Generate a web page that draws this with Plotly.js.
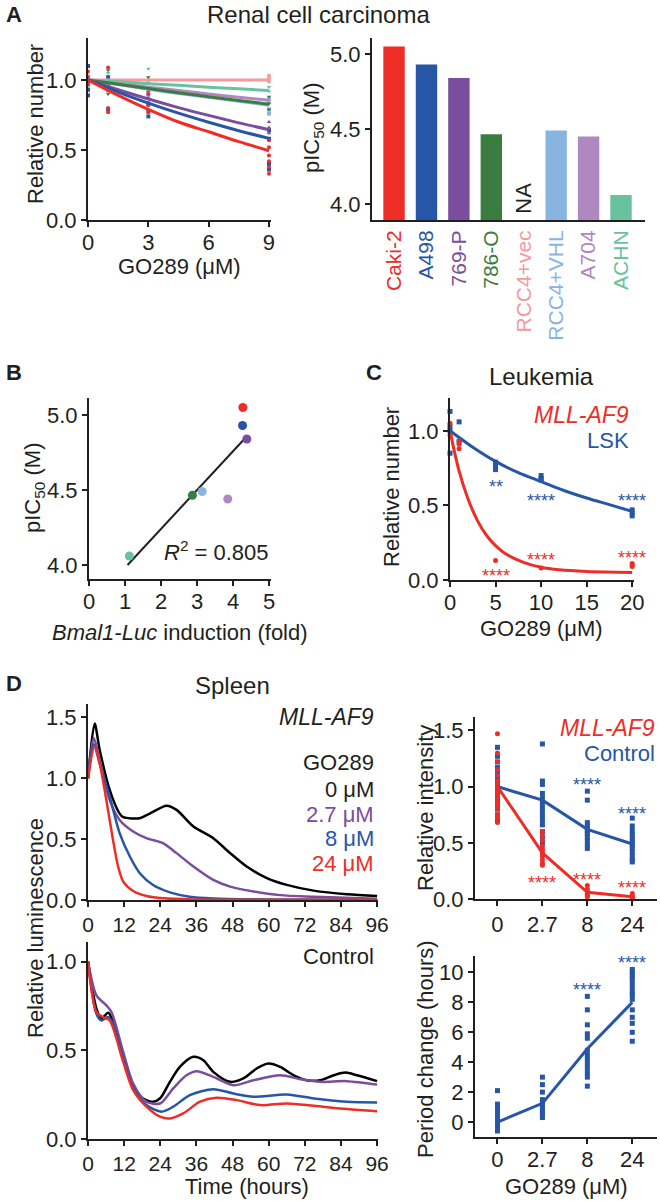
<!DOCTYPE html>
<html><head><meta charset="utf-8">
<script src="https://cdn.plot.ly/plotly-3.0.1.min.js"></script>
<style>html,body{margin:0;padding:0;background:#fff}#chart{width:660px;height:1201px}</style>
</head><body><div id="chart"></div>
<script>
// ---------------- DATA ----------------
// Panel A (left): relative number vs GO289 dose, fitted curves
const cellLines = ['Caki-2','A498','769-P','786-O','RCC4+vec','RCC4+VHL','A704','ACHN'];
const doseFitA = [0,1.5,3,4.5,6,7.5,9];
const fitCaki2 = [1,0.89,0.79,0.70,0.63,0.56,0.495];
const fitA498  = [1,0.914,0.835,0.763,0.698,0.638,0.583];
const fit769P  = [1,0.93,0.864,0.803,0.747,0.694,0.645];
const fit786O  = [1,0.969,0.939,0.909,0.881,0.854,0.827];
const fitRCC4vec = [1,1,1,1,1,1,1];
const fitRCC4VHL = [1,0.967,0.934,0.903,0.876,0.848,0.82];
const fitA704  = [1,0.974,0.949,0.925,0.9,0.877,0.855];
const fitACHN  = [1,0.987,0.974,0.962,0.949,0.937,0.925];
// replicate points (dose, relative number)
const ptsCaki2X = [0,0,0,1,1,1,1,3,3,3,9,9,9,9,9,9];
const ptsCaki2Y = [1.06,1.02,0.97,1.09,0.95,0.80,0.77,0.90,0.82,0.77,0.57,0.52,0.46,0.42,0.38,0.33];
const ptsA498X = [0,0,0,1,1,1,3,3,3,9,9,9,9];
const ptsA498Y = [1.10,0.93,0.89,1.02,0.95,0.79,0.83,0.78,0.74,0.64,0.58,0.40,0.36];
const pts769PX = [0,0,1,1,3,3,3,9,9,9];
const pts769PY = [1.0,0.97,0.98,0.92,0.92,0.87,0.84,0.70,0.66,0.62];
const pts786OX = [0,0,1,1,1,3,3,3,9,9,9];
const pts786OY = [1.02,0.98,1.07,0.97,0.90,1.02,0.95,0.90,0.88,0.83,0.79];
const ptsRCC4vecX = [0,0,1,3,9,9,9];
const ptsRCC4vecY = [1.03,0.99,1.0,1.0,1.03,1.01,0.99];
const ptsRCC4VHLX = [0,0,1,1,3,3,9,9,9];
const ptsRCC4VHLY = [1.01,0.96,0.97,0.94,0.93,0.88,0.86,0.79,0.76];
const ptsA704X = [0,1,3,3,9,9];
const ptsA704Y = [1.0,0.96,0.98,0.90,0.87,0.84];
const ptsACHNX = [0,1,1,3,3,9,9];
const ptsACHNY = [1.0,1.05,1.0,1.08,1.0,0.95,0.92];

// Panel A (right) + B: pIC50 (null = NA)
const pIC50 = [5.05,4.93,4.84,4.465,null,4.49,4.45,4.06];
// Panel B: Bmal1-Luc induction (fold) for lines with pIC50
const bLines = ['Caki-2','A498','769-P','786-O','RCC4+VHL','A704','ACHN'];
const bFold  = [4.27,4.26,4.38,2.87,3.14,3.85,1.12];
const bPIC50 = [5.05,4.93,4.84,4.465,4.49,4.44,4.06];
const bFitX = [1.07,4.33];
const bFitY = [4.0,4.845];

// Panel C: Leukemia
const cPtsLSKX = [0,0,0,0,1,1,5,5,5,10,10,10,20,20,20];
const cPtsLSKY = [1.13,1.03,1.0,0.85,1.06,0.93,0.79,0.76,0.74,0.70,0.68,0.67,0.47,0.45,0.43];
const cPtsMLLX = [0,0,1,1,1,5,10,20,20,20];
const cPtsMLLY = [1.05,0.97,0.93,0.91,0.88,0.13,0.08,0.11,0.10,0.09];
const cFitLSKX = [0,2.5,5,7.5,10,12.5,15,17.5,20];
const cFitLSKY = [1.0,0.89,0.795,0.72,0.66,0.60,0.55,0.505,0.46];
const cFitMLLX = [0,1,2,3,4,5,6,8,10,12,15,20];
const cFitMLLY = [1.0,0.73,0.54,0.40,0.30,0.23,0.18,0.12,0.085,0.068,0.057,0.051];

// Panel D (left): luminescence traces
const doseLabels = ['0 μM','2.7 μM','8 μM','24 μM'];
const mllT0  = [0,2.2,3.9,7.2,10.5,11.7,17.2,20.5,26.1,29.4,35,41.6,47.2,52.7,59.4,66,74.9,86,96];
const mllV0  = [1.0,1.45,1.23,0.905,0.71,0.68,0.672,0.71,0.774,0.74,0.604,0.508,0.385,0.275,0.18,0.124,0.077,0.047,0.033];
const mllT27 = [0,1.9,3.9,7.2,10.5,15,19.4,25,29.4,35,41.6,47.2,55,63.8,75,96];
const mllV27 = [1.0,1.33,1.15,0.82,0.658,0.563,0.508,0.466,0.385,0.275,0.165,0.11,0.07,0.04,0.027,0.01];
const mllT8  = [0,1.9,3.9,7.2,10.5,13.9,17.2,21.6,27.2,33.8,41.6,60,96];
const mllV8  = [1.0,1.28,1.12,0.85,0.549,0.357,0.22,0.123,0.063,0.027,0.013,0.005,0.003];
const mllT24 = [0,2.2,3.9,6.1,8.3,10,11.7,15,19.4,25,35,96];
const mllV24 = [1.0,1.26,1.12,0.82,0.494,0.275,0.151,0.074,0.033,0.014,0.005,0.003];
const ctlT0  = [0,2.8,4.45,6.7,8.3,11.7,15,18.3,21.6,23.9,27.2,30.5,35,38.3,41.6,47.2,51.6,56,59.9,63.8,68.3,72.7,77.1,81.6,85.5,89.3,96];
const ctlV0  = [1.0,0.734,0.678,0.712,0.66,0.472,0.303,0.228,0.21,0.228,0.322,0.406,0.463,0.444,0.378,0.322,0.341,0.397,0.425,0.406,0.359,0.331,0.331,0.359,0.374,0.359,0.326];
const ctlT27 = [0,2.8,6.1,7.8,11.7,15,19.4,23.9,28.3,32.7,36.1,41.6,48.3,54.9,63.8,70.5,77.1,86,96];
const ctlV27 = [1.0,0.809,0.753,0.715,0.49,0.313,0.21,0.2,0.285,0.359,0.382,0.35,0.303,0.331,0.359,0.337,0.322,0.326,0.307];
const ctlT8  = [0,2.8,4.45,6.7,8.3,11.7,15,19.4,24.4,28.3,33.8,41.6,48.3,54.9,66,75,86,96];
const ctlV8  = [1.0,0.705,0.668,0.687,0.65,0.453,0.285,0.191,0.154,0.182,0.247,0.281,0.256,0.238,0.251,0.228,0.21,0.206];
const ctlT24 = [0,2.8,5,7.2,11.7,15,19.4,23.9,27.2,31.6,37.2,42.7,49.4,57.2,66,75,86,96];
const ctlV24 = [1.0,0.715,0.687,0.668,0.434,0.275,0.182,0.126,0.116,0.144,0.21,0.232,0.219,0.191,0.2,0.187,0.169,0.157];

// Panel D (right): doses (categorical)
const doses = ['0','2.7','8','24'];
const intMLLMean  = [1.0,0.41,0.06,0.02];
const intCtlMean  = [1.0,0.88,0.62,0.49];
const intMLL_0  = [1.47,1.30,1.22,1.15,1.10,1.05,1.02,1.0,0.98,0.95,0.92,0.90,0.88,0.85,0.82,0.80,0.75,0.72,0.68];
const intMLL_27 = [0.60,0.56,0.52,0.47,0.44,0.42,0.40,0.38,0.35,0.32,0.30];
const intMLL_8  = [0.12,0.09,0.07,0.05,0.04,0.03,0.02];
const intMLL_24 = [0.05,0.03,0.02,0.01,0.0];
const intCtl_0  = [1.35,1.27,1.22,1.17,1.12,1.08,1.04,1.0,0.97,0.93,0.90,0.87,0.84,0.80,0.75,0.70];
const intCtl_27 = [1.38,1.05,1.02,0.94,0.90,0.86,0.82,0.78,0.74,0.70,0.66,0.60,0.55,0.50];
const intCtl_8  = [0.96,0.88,0.68,0.65,0.62,0.60,0.58,0.55,0.52,0.48,0.45];
const intCtl_24 = [0.72,0.65,0.61,0.58,0.55,0.52,0.50,0.48,0.45,0.42,0.38,0.35,0.33];
const periodMean = [0,1.25,4.9,8.0];
const period_0  = [2.1,1.2,1.0,0.8,0.6,0.4,0.2,0.0,-0.2,-0.4,-0.6];
const period_27 = [3.0,2.5,2.0,1.5,1.3,1.1,0.9,0.7,0.5,0.3];
const period_8  = [8.4,7.5,6.5,5.9,5.6,4.8,4.5,4.2,3.9,3.6,3.3,3.0,2.4];
const period_24 = [10.2,10.0,9.8,9.6,9.3,9.0,8.7,8.5,8.2,7.5,7.0,6.6,6.0,5.4];

// ---------------- STYLE ----------------
const F = 'Liberation Sans, Arial, Helvetica, sans-serif';
const INK = '#231F20';
const RED='#EE2D27', BLUE='#2756A6', PURPLE='#7B4D9D', DGREEN='#3B7D40',
      PINK='#F4999C', LBLUE='#88B5E0', LPURPLE='#AE88BF', TEAL='#68C29D';
const lineColors = [RED,BLUE,PURPLE,DGREEN,PINK,LBLUE,LPURPLE,TEAL];
const lineSymbols = ['circle','square','triangle-up','triangle-down','circle','square','triangle-up','triangle-down'];
const W=660, H=1201;
const dx=(a,b)=>[a/W,b/W];
const dy=(top,bot)=>[1-bot/H,1-top/H];
function ax(o){return Object.assign({showline:true,linewidth:2,linecolor:INK,ticks:'outside',ticklen:5,tickwidth:2,tickcolor:INK,
  showgrid:false,zeroline:false,tickfont:{size:22,color:INK,family:F},fixedrange:true,automargin:false},o);}
const XSO = -3;

const traces = [];
// Panel A left
const fitsA = [fitCaki2,fitA498,fit769P,fit786O,fitRCC4vec,fitRCC4VHL,fitA704,fitACHN];
const ptsAX = [ptsCaki2X,ptsA498X,pts769PX,pts786OX,ptsRCC4vecX,ptsRCC4VHLX,ptsA704X,ptsACHNX];
const ptsAY = [ptsCaki2Y,ptsA498Y,pts769PY,pts786OY,ptsRCC4vecY,ptsRCC4VHLY,ptsA704Y,ptsACHNY];
const drawOrder = [4,7,6,5,3,2,1,0];
drawOrder.forEach(i=>{
  traces.push({type:'scatter',mode:'markers',x:ptsAX[i],y:ptsAY[i],xaxis:'x',yaxis:'y',cliponaxis:false,
    marker:{color:lineColors[i],size:4,symbol:lineSymbols[i]},name:cellLines[i],hoverinfo:'skip'});
});
drawOrder.forEach(i=>{
  traces.push({type:'scatter',mode:'lines',x:doseFitA,y:fitsA[i],xaxis:'x',yaxis:'y',cliponaxis:false,
    line:{color:lineColors[i],width:3,shape:'spline'},name:cellLines[i]});
});
// Panel A right: bars
traces.push({type:'bar',x:cellLines,y:pIC50,xaxis:'x2',yaxis:'y2',width:0.66,
  marker:{color:lineColors,line:{width:0}},name:'pIC50'});
// Panel B
traces.push({type:'scatter',mode:'lines',x:bFitX,y:bFitY,xaxis:'x3',yaxis:'y3',line:{color:INK,width:2},name:'fit'});
const bColors = [RED,BLUE,PURPLE,DGREEN,LBLUE,LPURPLE,TEAL];
traces.push({type:'scatter',mode:'markers',x:bFold,y:bPIC50,text:bLines,xaxis:'x3',yaxis:'y3',cliponaxis:false,
  marker:{color:bColors,size:9},name:'lines'});
// Panel C
traces.push({type:'scatter',mode:'lines',x:cFitLSKX,y:cFitLSKY,xaxis:'x4',yaxis:'y4',line:{color:BLUE,width:3,shape:'spline'},name:'LSK fit'});
traces.push({type:'scatter',mode:'lines',x:cFitMLLX,y:cFitMLLY,xaxis:'x4',yaxis:'y4',line:{color:RED,width:3,shape:'spline'},name:'MLL-AF9 fit'});
traces.push({type:'scatter',mode:'markers',x:cPtsLSKX,y:cPtsLSKY,xaxis:'x4',yaxis:'y4',cliponaxis:false,marker:{color:BLUE,size:5,symbol:'square'},name:'LSK'});
traces.push({type:'scatter',mode:'markers',x:cPtsMLLX,y:cPtsMLLY,xaxis:'x4',yaxis:'y4',cliponaxis:false,marker:{color:RED,size:5},name:'MLL-AF9'});
// Panel D left
const dCols = ['#000000',PURPLE,BLUE,RED];
[[mllT0,mllV0],[mllT27,mllV27],[mllT8,mllV8],[mllT24,mllV24]].forEach((p,i)=>{
  traces.push({type:'scatter',mode:'lines',x:p[0],y:p[1],xaxis:'x5',yaxis:'y5',line:{color:dCols[i],width:2.5,shape:'spline',smoothing:0.8},name:'MLL-AF9 '+doseLabels[i]});
});
[[ctlT0,ctlV0],[ctlT27,ctlV27],[ctlT8,ctlV8],[ctlT24,ctlV24]].forEach((p,i)=>{
  traces.push({type:'scatter',mode:'lines',x:p[0],y:p[1],xaxis:'x6',yaxis:'y6',line:{color:dCols[i],width:2.5,shape:'spline',smoothing:0.8},name:'Control '+doseLabels[i]});
});
// Panel D right
function catPts(arrs){const xs=[],ys=[];arrs.forEach((a,i)=>a.forEach(v=>{xs.push(doses[i]);ys.push(v);}));return [xs,ys];}
const mllPts = catPts([intMLL_0,intMLL_27,intMLL_8,intMLL_24]);
const ctlPts = catPts([intCtl_0,intCtl_27,intCtl_8,intCtl_24]);
const perPts = catPts([period_0,period_27,period_8,period_24]);
traces.push({type:'scatter',mode:'markers',x:ctlPts[0],y:ctlPts[1],xaxis:'x7',yaxis:'y7',cliponaxis:false,marker:{color:BLUE,size:5,symbol:'square'},name:'Control'});
traces.push({type:'scatter',mode:'markers',x:mllPts[0],y:mllPts[1],xaxis:'x7',yaxis:'y7',cliponaxis:false,marker:{color:RED,size:5},name:'MLL-AF9'});
traces.push({type:'scatter',mode:'lines',x:doses,y:intCtlMean,xaxis:'x7',yaxis:'y7',line:{color:BLUE,width:3},name:'Control mean'});
traces.push({type:'scatter',mode:'lines',x:doses,y:intMLLMean,xaxis:'x7',yaxis:'y7',line:{color:RED,width:3},name:'MLL-AF9 mean'});
traces.push({type:'scatter',mode:'markers',x:perPts[0],y:perPts[1],xaxis:'x8',yaxis:'y8',cliponaxis:false,marker:{color:BLUE,size:5,symbol:'square'},name:'Period'});
traces.push({type:'scatter',mode:'lines',x:doses,y:periodMean,xaxis:'x8',yaxis:'y8',line:{color:BLUE,width:3},name:'Period mean'});

// ---------------- ANNOTATIONS ----------------
const ann = [];
function T(text,px,py,o){ann.push(Object.assign({text:text,xref:'paper',yref:'paper',x:px/W,y:1-py/H,showarrow:false,
  xanchor:'center',yanchor:'middle',font:{family:F,size:22,color:INK}},o||{}));}
function fnt(size,color,extra){return Object.assign({family:F,size:size,color:color||INK},extra||{});}
// panel letters
T('<b>A</b>',4,15,{xanchor:'left',font:fnt(22)});
T('<b>B</b>',4,373,{xanchor:'left',font:fnt(22)});
T('<b>C</b>',364,373,{xanchor:'left',font:fnt(22)});
T('<b>D</b>',4,683,{xanchor:'left',font:fnt(22)});
// titles
T('Renal cell carcinoma',318,15,{font:fnt(24)});
T('Leukemia',541,376,{font:fnt(24)});
T('Spleen',232,685,{font:fnt(24)});
// axis titles
T('Relative number',35,124,{textangle:-90});
T('GO289 (μM)',179,266);
T('pIC<sub>50</sub> (M)',313,128,{textangle:-90});
T('pIC<sub>50</sub> (M)',34,488,{textangle:-90});
T('<i>Bmal1-Luc</i> induction (fold)',180,632);
T('Relative number',392,487,{textangle:-90});
T('GO289 (μM)',541,628);
T('Relative luminescence',35,928,{textangle:-90});
T('Time (hours)',247,1186);
T('Relative intensity',425,808,{textangle:-90});
T('Period change (hours)',425,1049,{textangle:-90});
T('GO289 (μM)',566,1186);
// legends as text
T('<i>MLL-AF9</i>',631,415,{xanchor:'right',font:fnt(23,RED)});
T('LSK',631,440,{xanchor:'right',font:fnt(22,BLUE)});
T('<i>MLL-AF9</i>',376,717,{xanchor:'right',font:fnt(23)});
T('GO289',376,762,{xanchor:'right'});
T(doseLabels[0],376,789,{xanchor:'right'});
T(doseLabels[1],376,814,{xanchor:'right',font:fnt(22,PURPLE)});
T(doseLabels[2],376,838,{xanchor:'right',font:fnt(22,BLUE)});
T(doseLabels[3],376,863,{xanchor:'right',font:fnt(22,RED)});
T('Control',376,956,{xanchor:'right'});
T('<i>MLL-AF9</i>',657,728,{xanchor:'right',font:fnt(23,RED)});
T('Control',657,753,{xanchor:'right',font:fnt(22,BLUE)});
// data-anchored text
function D(text,xr,yr,x,y,o){ann.push(Object.assign({text:text,xref:xr,yref:yr,x:x,y:y,showarrow:false,xanchor:'center',yanchor:'middle',
  font:{family:F,size:22,color:INK}},o||{}));}
D('NA','x2','y2',4,4.04,{textangle:-90});
D('<i>R</i><sup>2</sup> = 0.805','x3','y3',3.53,4.093);
const SF = {family:F,size:18};
function S(text,xr,yr,x,y,col){D(text,xr,yr,x,y,{font:Object.assign({color:col},SF),yshift:-5});}
S('**','x4','y4',5,0.654,BLUE);
S('****','x4','y4',10,0.56,BLUE);
S('****','x4','y4',20,0.56,BLUE);
S('****','x4','y4',5,0.063,RED);
S('****','x4','y4',10,0.168,RED);
S('****','x4','y4',20,0.184,RED);
S('****','x7','y7',doses.indexOf('8'),1.056,BLUE);
S('****','x7','y7',doses.indexOf('24'),0.805,BLUE);
S('****','x7','y7',doses.indexOf('2.7'),0.186,RED);
S('****','x7','y7',doses.indexOf('8'),0.215,RED);
S('****','x7','y7',doses.indexOf('24'),0.14,RED);
S('****','x8','y8',doses.indexOf('8'),9.15,BLUE);
S('****','x8','y8',doses.indexOf('24'),10.97,BLUE);

const barTickText = cellLines.map((c,i)=>'<span style="color:'+lineColors[i]+'">'+c+'</span>');
const timeTickFont = {size:21,color:INK,family:F};

const layout = {
  width:W,height:H,margin:{l:0,r:0,t:0,b:0},paper_bgcolor:'#fff',plot_bgcolor:'rgba(0,0,0,0)',showlegend:false,
  font:{family:F,color:INK},
  xaxis: ax({domain:dx(88,271),anchor:'y',range:[0,9.1],tickvals:[0,3,6,9],ticklabelstandoff:XSO}),
  yaxis: ax({domain:dy(38,220),anchor:'x',range:[0,1.3],tickvals:[0,0.5,1],tickformat:'.1f'}),
  xaxis2: ax({domain:dx(372,645),anchor:'y2',type:'category',range:[-0.68,7.74],ticks:'',tickangle:-90,tickvals:cellLines,ticktext:barTickText,tickfont:{size:21,family:F}}),
  yaxis2: ax({domain:dy(38,220),anchor:'x2',range:[3.893,5.107],tickvals:[4,4.5,5],tickformat:'.1f'}),
  xaxis3: ax({domain:dx(89,271),anchor:'y3',range:[0,5.05],tickvals:[0,1,2,3,4,5],ticklabelstandoff:XSO}),
  yaxis3: ax({domain:dy(398,579),anchor:'x3',range:[3.907,5.113],tickvals:[4,4.5,5],tickformat:'.1f'}),
  xaxis4: ax({domain:dx(450,634),anchor:'y4',range:[0,20.2],tickvals:[0,5,10,15,20],ticklabelstandoff:XSO}),
  yaxis4: ax({domain:dy(398,580),anchor:'x4',range:[0,1.22],tickvals:[0,0.5,1],tickformat:'.1f'}),
  xaxis5: ax({domain:dx(88,378),anchor:'y5',range:[0,96.3],tickvals:[0,12,24,36,48,60,72,84,96],tickfont:timeTickFont}),
  yaxis5: ax({domain:dy(704,900),anchor:'x5',range:[0,1.61],tickvals:[0,0.5,1,1.5],tickformat:'.1f'}),
  xaxis6: ax({domain:dx(88,378),anchor:'y6',range:[0,96.3],tickvals:[0,12,24,36,48,60,72,84,96],tickfont:timeTickFont}),
  yaxis6: ax({domain:dy(942,1139),anchor:'x6',range:[0,1.11],tickvals:[0,0.5,1],tickformat:'.1f'}),
  xaxis7: ax({domain:dx(475,657),anchor:'y7',type:'category',range:[-0.5,3.55],tickvals:doses}),
  yaxis7: ax({domain:dy(717,899),anchor:'x7',range:[0,1.62],tickvals:[0,0.5,1,1.5],tickformat:'.1f'}),
  xaxis8: ax({domain:dx(475,657),anchor:'y8',type:'category',range:[-0.5,3.55],tickvals:doses,ticklabelstandoff:XSO}),
  yaxis8: ax({domain:dy(956,1137),anchor:'x8',range:[-1,11.1],tickvals:[0,2,4,6,8,10]}),
  annotations:ann
};
Plotly.newPlot('chart',traces,layout,{staticPlot:true,displayModeBar:false});
</script></body></html>
